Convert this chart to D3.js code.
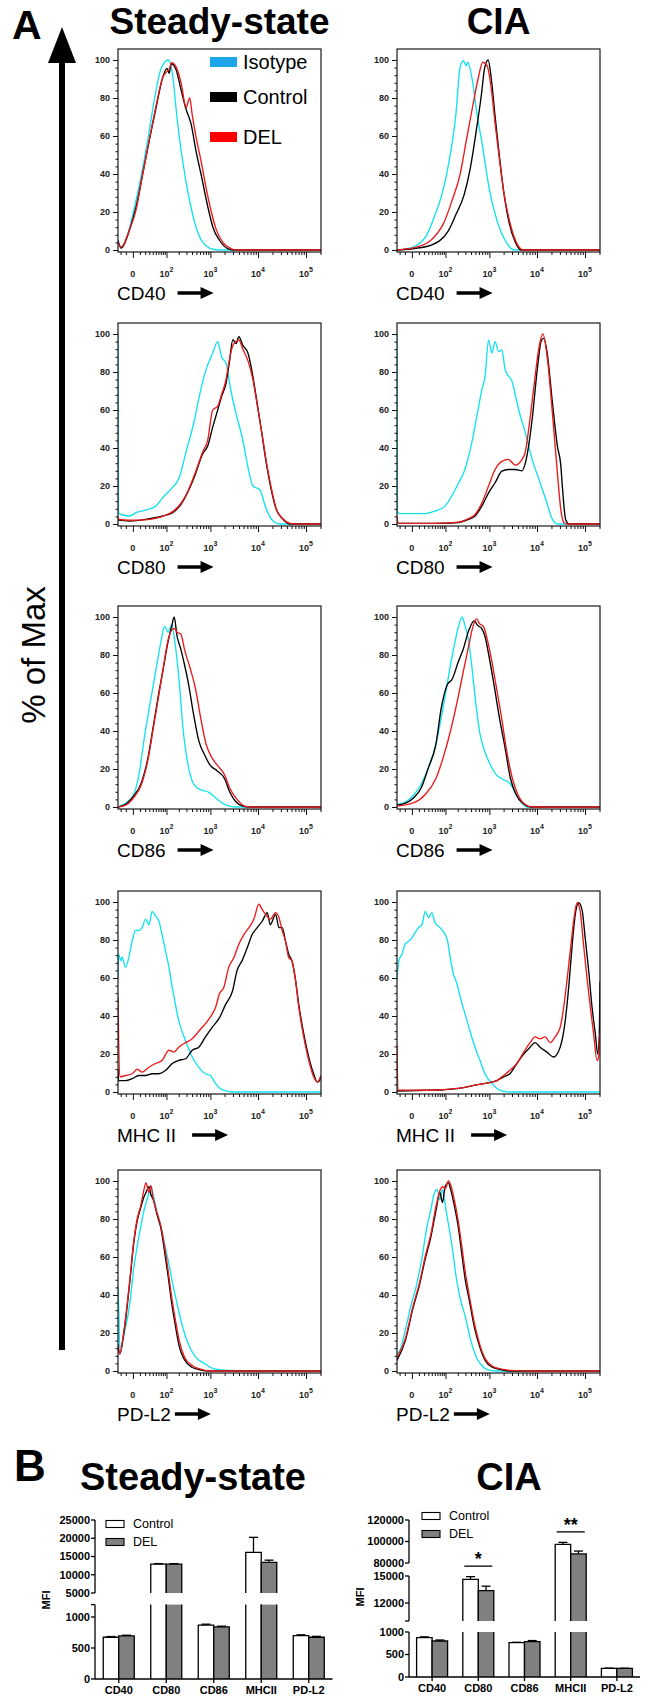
<!DOCTYPE html>
<html><head><meta charset="utf-8">
<script src="https://cdn.jsdelivr.net/npm/d3@7"></script>
<style>body{margin:0;background:#fff}</style>
</head><body><svg id="c" width="650" height="1700"></svg>
<script>
// ---------------- DATA ----------------
const seriesNames = ["Isotype", "Control", "DEL"];
const markers = ["CD40", "CD80", "CD86", "MHC II", "PD-L2"];
const conditions = ["Steady-state", "CIA"];
const xTickValues = [0, 100, 1000, 10000, 100000];
const xTickBase = ["0", "10", "10", "10", "10"];
const xTickExp = ["", "2", "3", "4", "5"];
const yTickValues = [0, 20, 40, 60, 80, 100];

// histogram series: [fluorescence intensity, % of max]
const ssCD40_iso = [[-26,4],[-19,1.5],[-4,12],[2,22.5],[13,40],[26,58],[45,79],[72,95.6],[110,100],[145,91],[172,75],[210,58],[275,40],[380,22.5],[490,12],[690,4],[1130,0.4],[1600,0],[205000,0]];
const ssCD40_ctrl = [[-26,5],[-19,1],[-4,11],[4,22.5],[15,40],[30,58],[51,75],[80,91],[103,95.6],[117,93],[132,98],[172,95],[228,84],[295,74],[380,66.5],[490,52],[628,40],[885,22.5],[1130,12],[1570,5],[2330,0.7],[2990,0],[205000,0]];
const ssCD40_del = [[-26,4],[-19,1.5],[-4,11],[4,21],[15,40],[30,58],[51,76],[80,91],[103,94],[117,95],[135,98.6],[172,96.5],[228,87.7],[295,75],[355,80],[405,71],[490,59.5],[628,47],[805,33],[1030,20.8],[1320,11],[1840,4],[2720,0.7],[3490,0],[205000,0]];

const ciaCD40_iso = [[-26,0],[-10,0.5],[3,1.8],[26,8],[51,18.5],[89,32.6],[128,48.5],[180,71],[226,96],[270,99.6],[311,97],[335,98.8],[430,89],[530,73],[720,54],[985,32.6],[1470,15],[2240,4.4],[3300,0],[205000,0]];
const ciaCD40_ctrl = [[-26,0],[3,0.8],[38,2.6],[115,9.7],[180,18.5],[280,29],[385,43],[530,64],[660,80],[795,96],[940,100],[1090,90.8],[1330,69.7],[1620,50],[2000,31],[2580,15],[3490,4.4],[4680,0],[205000,0]];
const ciaCD40_del = [[-26,0],[3,1.2],[38,5.3],[89,14],[144,25.6],[226,39.7],[311,57],[430,75],[580,90.8],[720,98.8],[890,97],[1090,85.5],[1330,66],[1620,48.5],[2000,31],[2680,15],[3640,4.4],[5150,0],[205000,0]];

const ssCD80_iso = [[-26,100],[-25,6],[-19,5],[-4,4.2],[4,6],[21,7.3],[50,9.4],[79,13.8],[128,18.2],[210,25],[290,37.4],[455,55],[575,67],[800,81],[1120,90],[1430,96],[1720,88],[2140,84.6],[2720,70],[3490,58],[4830,44],[6160,30],[7840,20],[10900,18],[14900,7.7],[20600,1.6],[28300,0],[205000,0]];
const ssCD80_ctrl = [[-26,3],[-25,2],[-4,1.6],[21,2.4],[79,4.2],[143,6],[210,9.4],[290,14.7],[455,25],[685,37],[875,41],[1120,51],[1430,60],[1720,67],[2140,74],[2500,84.6],[2980,97],[3490,95],[3970,98.6],[4830,94],[6160,90],[7840,77.6],[9150,67],[11700,49.7],[14900,32],[18900,18],[24000,7.7],[33400,2.4],[46500,0],[205000,0]];
const ssCD80_del = [[-26,4],[-25,2.5],[-4,2],[21,2.2],[79,4],[143,6.5],[210,10],[290,15],[455,26],[685,38],[875,44],[1120,60],[1430,62],[1720,68],[2140,76],[2500,86],[2980,94],[3490,96],[3970,97],[4830,92],[6160,86],[7840,76],[9150,66],[11700,50],[14900,33],[18900,19],[24000,8],[33400,2.6],[46500,0.3],[60000,0],[205000,0]];

const ciaCD80_iso = [[-26,100],[-25,6],[-15,5.5],[21,5.5],[50,6.8],[97,9.4],[143,14.7],[211,21.7],[292,28.7],[415,42.7],[536,56.6],[688,70.6],[807,77.6],[960,96.8],[1130,90],[1320,96],[1580,90.7],[1840,91.6],[2160,81],[3010,75],[4150,60],[5700,48],[7910,34],[11000,23.4],[15200,13],[21000,2.4],[26600,0],[205000,0]];
const ciaCD80_ctrl = [[-26,3],[-24,0.5],[50,0.3],[211,0.8],[350,2.4],[490,4.2],[688,9.4],[960,16.4],[1320,21.7],[1840,27.8],[2510,28.7],[3520,28.7],[4870,28],[5700,32],[6680,41],[7910,55],[10100,81],[12400,96.8],[13900,97.7],[16300,90],[21000,63.6],[26600,41],[31300,31],[33700,20],[39500,2.4],[46600,0],[205000,0]];
const ciaCD80_del = [[-26,4],[-24,0.5],[50,0.3],[211,1],[350,2.8],[490,5],[688,11],[960,20],[1320,28.7],[1840,33],[2510,34],[3520,31],[4870,34],[5700,38],[6680,49.6],[8590,72],[11000,93],[13300,100],[16300,88],[21000,58],[26600,27],[31300,7.7],[36500,0.7],[43000,0],[205000,0]];

const ssCD86_iso = [[-26,0],[-9,2.3],[1,6.6],[8.5,17],[18,36],[31.5,54],[49,71],[71,87],[89,95],[110,92],[135,96],[166,85],[205,66],[247,43],[327,22],[435,12],[617,9],[893,8],[1270,5],[1990,1.4],[3370,0],[205000,0]];
const ssCD86_ctrl = [[-26,0],[-9,1.7],[1,5.8],[11.5,12],[26.6,26],[42,43],[63,61],[79,71],[110,87],[135,95],[156,100],[182,90],[224,83],[271,75],[327,66],[435,48.5],[568,34.5],[745,27.6],[985,22],[1400,19],[1990,15],[2550,8],[3370,3],[4800,0.5],[6750,0],[205000,0]];
const ssCD86_del = [[-26,0],[-9,1.2],[1,5],[11.5,11],[26.6,25],[42,42],[63,60],[79,71],[110,88],[135,93],[156,94],[182,92],[224,91],[271,83],[364,73],[475,62.5],[617,47],[810,33],[1075,26],[1400,22],[1990,17],[2550,10],[3650,4],[5250,0.5],[7400,0],[205000,0]];

const ciaCD86_iso = [[-26,1.4],[-7,3],[2.7,6.6],[14,12],[30,20.6],[54,33],[77,47],[109,64],[149,80],[203,94],[252,100],[292,95.6],[357,87],[430,71],[513,54],[611,40],[800,29],[1060,22],[1385,17],[1970,14.5],[2790,12],[3650,6.6],[4730,2.3],[6200,0],[205000,0]];
const ciaCD86_ctrl = [[-26,1],[-7,2.3],[2.7,5],[14,10],[30,20.6],[54,33],[77,52],[109,64],[149,67.5],[203,76],[267,83],[357,93],[470,98],[560,95.6],[680,94],[800,90],[970,80],[1260,64],[1630,47],[2150,31],[2790,15],[3650,6.6],[5230,1.7],[7380,0],[205000,0]];
const ciaCD86_del = [[-26,0.5],[2.7,2.3],[22.5,6.6],[54,15],[87,26],[134,40],[203,57.6],[267,71],[357,85],[430,94],[530,99],[611,96.5],[745,95],[885,89],[1060,80],[1385,64],[1810,47],[2340,29],[3060,15],[3980,6.6],[5640,1.4],[8100,0],[205000,0]];

const ssMHC_iso = [[-26,60],[-24.5,72.6],[-19.5,69],[-16.8,71],[-10.5,65.6],[-4.3,72.6],[-0.9,79.5],[3.4,85],[8.3,85],[14,86.5],[21,91],[29,88],[38,95],[49,92.6],[62,90],[76,83],[95,74],[116,65.6],[140,55],[167,46],[200,37.6],[287,27],[405,18.4],[563,13],[785,9.6],[1000,8.7],[1290,4.4],[1780,1.2],[2920,0],[205000,0]];
const ssMHC_ctrl = [[-26,12],[-24.5,6],[-10.5,6],[-0.9,7],[8.3,8.7],[21,8.7],[38,9.6],[62,9.6],[95,11.4],[140,15],[200,16.6],[287,17.5],[405,22],[563,23.6],[785,29],[1090,34],[1550,39],[2090,46],[2920,53],[3660,64],[4630,69],[5980,76],[7600,83],[9650,86.5],[12300,90],[15600,94.4],[18000,88],[23300,93.5],[27300,86.5],[31900,86.5],[37300,79.5],[43600,72.6],[51000,69],[60700,58.6],[70700,46],[89700,30.6],[114000,18.4],[144000,9.6],[172000,5.2],[192000,6],[205000,8.7]];
const ssMHC_del = [[-26,50],[-22,8],[-10.5,8.7],[-0.9,9.6],[5.7,12],[14,10.5],[29,13],[49,15],[76,16.6],[116,22],[154,21],[200,23.6],[287,26],[405,28],[563,32],[785,36],[1090,41],[1290,44.6],[1550,51.6],[1920,55],[2440,65.6],[3140,70.8],[3980,77.8],[5100,83],[6460,86.5],[8230,91],[10400,98.8],[12300,96],[14400,93.5],[18000,91],[23300,94.4],[27300,91.8],[31900,85],[37300,79.5],[43600,70.8],[51000,69],[60700,58.6],[70700,44.6],[89700,29],[114000,16.6],[144000,8],[172000,5.2],[200000,8]];

const ciaMHC_iso = [[-26,59],[-22,69],[-15,72.6],[-9.6,77.8],[-3.9,79.5],[0,81],[4.3,84],[9.5,86.5],[15.4,88],[22.5,95],[30.5,91.8],[40,94.4],[51,89],[67,87],[91,84],[113,79.5],[132,70.8],[158,62],[192,57],[228,50],[295,41],[380,32],[490,23.6],[628,16.6],[805,9.6],[1130,4.4],[1700,0.9],[2720,0],[205000,0]];
const ciaMHC_ctrl = [[-26,0.5],[26,0.9],[91,1.2],[228,2],[462,3.5],[885,4.7],[1440,6],[2000,8],[2720,9.6],[3800,15],[5280,20],[7180,23.6],[9090,26],[11600,23.6],[16100,21],[22200,18.4],[30400,23.6],[38800,37.6],[45700,55],[53500,76],[62700,93.5],[73500,99.6],[86500,96],[101000,81],[119000,64],[140000,44.6],[164000,30.6],[184000,20],[199000,30.6],[205000,58]];
const ciaMHC_del = [[-26,25],[-24,1],[26,0.9],[228,2],[462,3.5],[885,4.7],[1440,6],[2000,8.7],[2720,11.4],[3800,15],[5280,21],[7180,26],[9090,29],[11600,28],[14800,29],[18800,26],[23800,29],[30400,34],[36000,44.6],[42100,58.6],[49200,74],[58000,90],[68100,99.6],[79500,95],[93000,77.8],[110000,60],[129000,44.6],[151000,30.6],[178000,16.6],[192000,18.4],[202000,30.6]];

const ssPDL2_iso = [[-26,45],[-24,30],[-22,12],[-12.6,20],[-3.4,37],[0.7,53],[5.7,65.6],[11.5,76],[18,85],[26.6,92],[34,97.5],[42,92],[55,83],[71,76],[89,67],[119,55],[143,46],[182,35.6],[247,23],[327,14.5],[475,7.4],[745,3.9],[1160,1.2],[1990,0.4],[5600,0],[205000,0]];
const ssPDL2_ctrl = [[-26,14],[-22,9],[-12.6,22],[-3.4,49],[0.7,66],[5.7,79],[11.5,86],[18,92],[22,94],[29,97],[34,93],[42,90],[55,82],[71,75],[89,63],[110,50],[135,36],[166,24],[205,13],[271,6],[397,2],[568,0.8],[985,0],[205000,0]];
const ssPDL2_del = [[-26,14],[-22,9],[-12.6,23],[-3.4,50],[0.7,67],[5.7,80],[11.5,87],[18,96],[22,99],[29,94],[34,97.5],[42,90],[55,83],[71,76],[89,65.6],[110,53],[135,39],[166,27],[205,16],[271,7.4],[397,3],[568,1.2],[985,0],[205000,0]];

const ciaPDL2_iso = [[-26,9],[-19,11],[-9.2,21.5],[-1.4,34],[5.7,44.4],[15,58.6],[26.6,76],[37,85],[49,94],[59,95.6],[71,90],[83,95.6],[99,87],[122,76],[150,64],[182,50],[224,39],[298,28.6],[397,16],[518,7.4],[685,3],[893,0.7],[1400,0],[205000,0]];
const ciaPDL2_ctrl = [[-26,5.6],[-9.2,16],[0.7,32],[11.5,46],[22,58.6],[37,70.5],[55,85],[71,94],[83,88.7],[99,97.4],[119,99],[135,95.6],[166,87],[205,76],[247,62],[298,48],[364,37.6],[475,23],[620,12.7],[810,5.6],[1160,2],[1800,0.7],[2840,0],[205000,0]];
const ciaPDL2_del = [[-26,7],[-9.2,17],[0.7,33],[11.5,47],[22,60],[37,72],[55,87],[71,95],[83,97],[99,96],[119,100],[135,98],[166,90],[205,79],[247,66],[298,52],[364,40],[475,25],[620,14],[810,6.5],[1160,2.5],[1800,1],[2840,0.3],[8000,0],[205000,0]];

// bar chart data (MFI, mean and error)
const barCategories = ["CD40", "CD80", "CD86", "MHCII", "PD-L2"];
const barGroups = ["Control", "DEL"];
const ssControl = [673, 12900, 870, 16150, 698];
const ssControlErr = [12, 150, 14, 4100, 15];
const ssDEL = [694, 12900, 840, 13400, 673];
const ssDELErr = [12, 150, 12, 600, 15];
const ciaControl = [873, 14630, 762, 97400, 193];
const ciaControlErr = [20, 300, 10, 1800, 5];
const ciaDEL = [800, 13370, 785, 88400, 190];
const ciaDELErr = [22, 500, 25, 2700, 5];
const ciaSignif = [["CD80", "*"], ["MHCII", "**"]];

// ---------------- DRAWING ----------------
const FONT = "'Liberation Sans', Arial, Helvetica, sans-serif";
const lineColors = ["#14e2ee", "#000000", "#ea1b1b"];
const legendColors = ["#1ba6ea", "#000000", "#ff0000"];

const svg = d3.select("#c").attr("font-family", FONT);
svg.append("rect").attr("width", 650).attr("height", 1700).attr("fill", "#fff");

const histTable = {
  "Steady-state": [
    [ssCD40_iso, ssCD40_ctrl, ssCD40_del],
    [ssCD80_iso, ssCD80_ctrl, ssCD80_del],
    [ssCD86_iso, ssCD86_ctrl, ssCD86_del],
    [ssMHC_iso, ssMHC_ctrl, ssMHC_del],
    [ssPDL2_iso, ssPDL2_ctrl, ssPDL2_del]],
  "CIA": [
    [ciaCD40_iso, ciaCD40_ctrl, ciaCD40_del],
    [ciaCD80_iso, ciaCD80_ctrl, ciaCD80_del],
    [ciaCD86_iso, ciaCD86_ctrl, ciaCD86_del],
    [ciaMHC_iso, ciaMHC_ctrl, ciaMHC_del],
    [ciaPDL2_iso, ciaPDL2_ctrl, ciaPDL2_del]]
};

const colX = [118, 397];
const rowY = [49, 323, 606, 891, 1170];
const W = 203, H = 203;
const arrowGap = [12, 12, 12, 16, 4];

const x = d3.scaleSymlog().constant(25).domain([-26, 205000]).range([0, W]);
const y = d3.scaleLinear().domain([0, 100]).range([H - 2, 11]);
const xMinor = [-20, -10].concat(d3.range(10, 100, 10), d3.range(200, 1000, 100),
  d3.range(2000, 10000, 1000), d3.range(20000, 100000, 10000), [200000]);
const yMinor = d3.range(0, 101, 4);

function styleAxis(sel) {
  sel.select(".domain").remove();
  sel.selectAll(".tick line").attr("stroke", "#111").attr("stroke-width", 1);
}

function arrow(g, x0, yc, len) {
  const hl = 13, hw = 6;
  g.append("line").attr("x1", x0).attr("x2", x0 + len - hl + 1).attr("y1", yc).attr("y2", yc)
    .attr("stroke", "#000").attr("stroke-width", 3.5);
  g.append("path").attr("d", `M${x0 + len},${yc} L${x0 + len - hl},${yc - hw} L${x0 + len - hl},${yc + hw} Z`).attr("fill", "#000");
}

conditions.forEach((cond, ci) => {
  histTable[cond].forEach((series, ri) => {
    const g = svg.append("g").attr("transform", `translate(${colX[ci]},${rowY[ri]})`);
    const clipId = `clip${ci}_${ri}`;
    g.append("clipPath").attr("id", clipId).append("rect").attr("width", W).attr("height", H);
    const line = d3.line().x(d => x(d[0])).y(d => y(d[1])).curve(d3.curveMonotoneX);
    const lg = g.append("g").attr("clip-path", `url(#${clipId})`);
    series.forEach((s, i) => {
      lg.append("path").attr("d", line(s)).attr("fill", "none")
        .attr("stroke", lineColors[i]).attr("stroke-width", 1.35).attr("stroke-linejoin", "round");
    });
    g.append("rect").attr("width", W).attr("height", H).attr("fill", "none")
      .attr("stroke", "#1a1a1a").attr("stroke-width", 1.2);

    // x axis ticks
    g.append("g").attr("transform", `translate(0,${H})`)
      .call(d3.axisBottom(x).tickValues(xMinor).tickSize(3).tickFormat("")).call(styleAxis);
    g.append("g").attr("transform", `translate(0,${H})`)
      .call(d3.axisBottom(x).tickValues(xTickValues).tickSize(6).tickFormat("")).call(styleAxis);
    xTickValues.forEach((v, k) => {
      const t = g.append("text").attr("x", x(v)).attr("y", H + 25).attr("text-anchor", "middle")
        .attr("font-size", 9).attr("font-weight", "bold").attr("fill", "#222").text(xTickBase[k]);
      if (xTickExp[k]) t.append("tspan").attr("dy", -5).attr("font-size", 7).text(xTickExp[k]);
    });

    // y axis
    g.append("g").call(d3.axisLeft(y).tickValues(yMinor).tickSize(2.5).tickFormat("")).call(styleAxis);
    const ya = g.append("g").call(d3.axisLeft(y).tickValues(yTickValues).tickSize(5).tickPadding(3)).call(styleAxis);
    ya.selectAll(".tick text").attr("font-size", 9).attr("font-weight", "bold").attr("fill", "#222")
      .attr("font-family", FONT);

    // axis label + arrow
    const lbl = g.append("text").attr("x", -1).attr("y", H + 48).attr("font-size", 19).text(markers[ri]);
    const tw = lbl.node().getComputedTextLength();
    arrow(g, -1 + tw + arrowGap[ri], H + 41, 36);

    // legend
    if (ci === 0 && ri === 0) {
      const ly = [13, 48, 88];
      seriesNames.forEach((n, i) => {
        g.append("rect").attr("x", 92).attr("y", ly[i] - 5).attr("width", 27).attr("height", 10).attr("fill", legendColors[i]);
        g.append("text").attr("x", 125).attr("y", ly[i] + 7).attr("font-size", 20).text(n);
      });
    }
  });
});

// titles for A
svg.append("text").attr("x", 12).attr("y", 39).attr("font-size", 41).attr("font-weight", "bold").text("A");
svg.append("text").attr("x", colX[0] + W / 2).attr("y", 34).attr("text-anchor", "middle")
  .attr("font-size", 37).attr("font-weight", "bold").text(conditions[0]);
svg.append("text").attr("x", colX[1] + W / 2).attr("y", 34).attr("text-anchor", "middle")
  .attr("font-size", 37).attr("font-weight", "bold").text(conditions[1]);

// vertical arrow + % of Max
svg.append("rect").attr("x", 59).attr("y", 58).attr("width", 6).attr("height", 1292).attr("fill", "#000");
svg.append("path").attr("d", "M62,27 L76,63 L48,63 Z").attr("fill", "#000");
svg.append("text").attr("transform", "translate(45,655) rotate(-90)").attr("text-anchor", "middle")
  .attr("font-size", 33).text("% of Max");

// ---------------- B: bar charts ----------------
svg.append("text").attr("x", 14).attr("y", 1481).attr("font-size", 44).attr("font-weight", "bold").text("B");
svg.append("text").attr("x", 193).attr("y", 1490).attr("text-anchor", "middle")
  .attr("font-size", 38).attr("font-weight", "bold").text(conditions[0]);
svg.append("text").attr("x", 509).attr("y", 1490).attr("text-anchor", "middle")
  .attr("font-size", 38).attr("font-weight", "bold").text(conditions[1]);

function drawBars(cfg) {
  const g = svg.append("g");
  const xb = d3.scaleBand().domain(barCategories).range([cfg.axisX, cfg.axisX + 5 * cfg.step]).padding(0);
  const segs = cfg.segments.map(s => Object.assign({}, s, { sc: d3.scaleLinear().domain(s.domain).range(s.range) }));
  const bw = 15.5;
  const groupVals = [[cfg.ctrl, cfg.ctrlErr], [cfg.del, cfg.delErr]];
  const fills = ["#ffffff", "#808080"];

  barCategories.forEach((cat, ci) => {
    const cx = xb(cat) + xb.bandwidth() / 2;
    groupVals.forEach(([vals, errs], gi) => {
      const v = vals[ci], e = errs[ci];
      const x0 = cx - bw + gi * bw, x1 = x0 + bw;
      segs.forEach(s => {
        if (v <= s.domain[0]) return;
        const top = s.sc(Math.min(v, s.domain[1]));
        const bot = s.sc(s.domain[0]) + (s.extend || 0);
        g.append("rect").attr("x", x0).attr("y", top).attr("width", bw).attr("height", bot - top).attr("fill", fills[gi]);
        const isTop = v <= s.domain[1];
        const d = isTop ? `M${x0},${bot} L${x0},${top} L${x1},${top} L${x1},${bot}`
                        : `M${x0},${bot} L${x0},${top} M${x1},${top} L${x1},${bot}`;
        g.append("path").attr("d", d).attr("fill", "none").attr("stroke", "#000").attr("stroke-width", 1.3);
        if (isTop) {
          const ye = s.sc(v + e);
          g.append("line").attr("x1", x0 + bw / 2).attr("x2", x0 + bw / 2).attr("y1", top).attr("y2", ye)
            .attr("stroke", "#000").attr("stroke-width", 1.3);
          g.append("line").attr("x1", x0 + bw / 2 - 4.5).attr("x2", x0 + bw / 2 + 4.5).attr("y1", ye).attr("y2", ye)
            .attr("stroke", "#000").attr("stroke-width", 1.3);
        }
      });
    });
  });

  // y axis segments
  segs.forEach(s => {
    const ag = g.append("g").attr("transform", `translate(${cfg.axisX},0)`);
    ag.append("line").attr("x1", 0).attr("x2", 0).attr("y1", s.range[0]).attr("y2", s.range[1])
      .attr("stroke", "#000").attr("stroke-width", 1.3);
    s.ticks.forEach(t => {
      const yy = s.sc(t);
      ag.append("line").attr("x1", -4).attr("x2", 0).attr("y1", yy).attr("y2", yy).attr("stroke", "#000").attr("stroke-width", 1.3);
      if (s.labeled.includes(t)) {
        ag.append("text").attr("x", -5).attr("y", yy).attr("dy", "0.35em").attr("text-anchor", "end")
          .attr("font-size", 11).attr("font-weight", "bold").text(t);
      }
    });
  });
  // x axis
  const base = segs[0].range[0];
  g.append("line").attr("x1", cfg.axisX).attr("x2", cfg.axisX + 5 * cfg.step).attr("y1", base).attr("y2", base)
    .attr("stroke", "#000").attr("stroke-width", 1.3);
  barCategories.forEach(cat => {
    const cx = xb(cat) + xb.bandwidth() / 2;
    g.append("line").attr("x1", cx).attr("x2", cx).attr("y1", base).attr("y2", base + 4).attr("stroke", "#000").attr("stroke-width", 1.3);
    g.append("text").attr("x", cx).attr("y", base + 15).attr("text-anchor", "middle")
      .attr("font-size", 11).attr("font-weight", "bold").text(cat);
  });
  // MFI label
  g.append("text").attr("transform", `translate(${cfg.mfiX},${cfg.mfiY}) rotate(-90)`).attr("text-anchor", "middle")
    .attr("font-size", 11).attr("font-weight", "bold").text("MFI");
  // legend
  barGroups.forEach((n, i) => {
    const ly = cfg.legendY + i * 18;
    g.append("rect").attr("x", cfg.legendX).attr("y", ly - 3.5).attr("width", 18).attr("height", 7)
      .attr("fill", fills[i]).attr("stroke", "#000").attr("stroke-width", 1.1);
    g.append("text").attr("x", cfg.legendX + 27).attr("y", ly).attr("dy", "0.35em").attr("font-size", 12.5).text(n);
  });
  // significance
  (cfg.signif || []).forEach(([cat, mark]) => {
    const ci = barCategories.indexOf(cat);
    const cx = xb(cat) + xb.bandwidth() / 2;
    let topY = Infinity;
    [[cfg.ctrl, cfg.ctrlErr], [cfg.del, cfg.delErr]].forEach(([vals, errs]) => {
      const v = vals[ci] + errs[ci];
      const s = segs.find(s => v > s.domain[0] && v <= s.domain[1]) || segs[segs.length - 1];
      topY = Math.min(topY, s.sc(v));
    });
    const ly = topY - 10.5;
    g.append("line").attr("x1", cx - 14).attr("x2", cx + 14).attr("y1", ly).attr("y2", ly).attr("stroke", "#000").attr("stroke-width", 1.3);
    g.append("text").attr("x", cx).attr("y", ly - 1).attr("text-anchor", "middle").attr("font-size", 18).attr("font-weight", "bold").text(mark);
  });
}

drawBars({
  axisX: 95, step: 47.5, mfiX: 50, mfiY: 1600, legendX: 106, legendY: 1524,
  ctrl: ssControl, ctrlErr: ssControlErr, del: ssDEL, delErr: ssDELErr,
  segments: [
    { domain: [0, 1200], range: [1679, 1604.6], ticks: [0, 500, 1000, 1200], labeled: [0, 500, 1000] },
    { domain: [5000, 25000], range: [1593, 1520], ticks: [5000, 10000, 15000, 20000, 25000], labeled: [5000, 10000, 15000, 20000, 25000] }
  ]
});
drawBars({
  axisX: 409, step: 46.2, mfiX: 364, mfiY: 1597, legendX: 422, legendY: 1516,
  ctrl: ciaControl, ctrlErr: ciaControlErr, del: ciaDEL, delErr: ciaDELErr, signif: ciaSignif,
  segments: [
    { domain: [0, 1000], range: [1677, 1632], ticks: [0, 500, 1000], labeled: [0, 500, 1000] },
    { domain: [10000, 15000], range: [1621, 1576], ticks: [10000, 12000, 15000], labeled: [12000, 15000] },
    { domain: [80000, 120000], range: [1563, 1520], ticks: [80000, 100000, 120000], labeled: [80000, 100000, 120000], extend: 13 }
  ]
});
</script></body></html>
